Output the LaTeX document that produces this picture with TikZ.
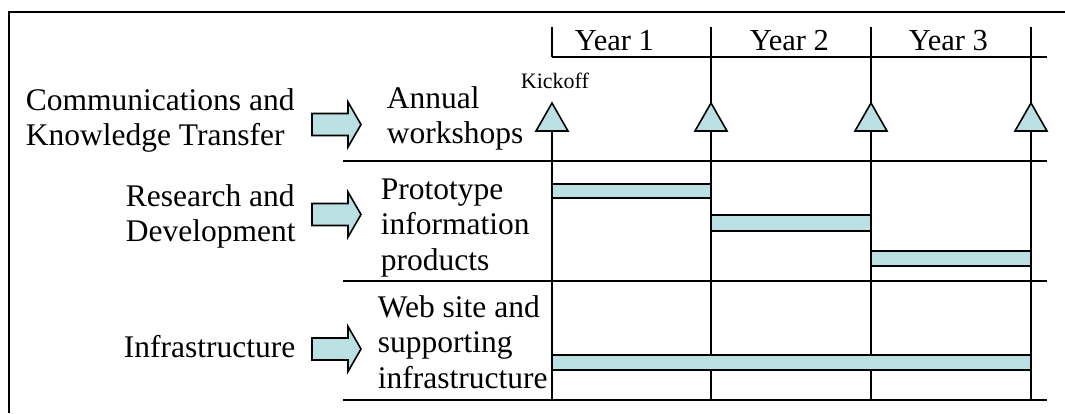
\documentclass[tikz,border=0pt]{standalone}
\usepackage{fontspec}
\setmainfont{Liberation Serif}
\definecolor{barfill}{RGB}{187,224,227}
\newcommand{\mylines}[1]{\begin{tabular}[t]{@{}l@{}}#1\end{tabular}}
\begin{document}
\begin{tikzpicture}[x=1pt,y=-1pt,line width=1.8pt,
  lbl/.style={inner sep=0pt,anchor=base west,font=\fontsize{31.5}{35.5}\selectfont},
  yr/.style={inner sep=0pt,anchor=base west,font=\fontsize{30.5}{34}\selectfont},
  small/.style={inner sep=0pt,anchor=base west,font=\fontsize{22}{26}\selectfont},
  grid/.style={draw=black,line width=1.8pt},
  frame/.style={draw=black,line width=2pt},
  bar/.style={draw=black,fill=barfill,line width=1.5pt},
  tri/.style={draw=black,fill=barfill,line width=1.6pt,line join=miter},
  blockarr/.pic={\filldraw[draw=black,fill=barfill,line width=1.6pt,line join=miter]
     (-24.5,-11) -- (11.5,-11) -- (11.5,-22.5) -- (24.5,0) -- (11.5,22.5) -- (11.5,11) -- (-24.5,11) -- cycle;}]
\useasboundingbox (0,0) rectangle (1065,413);
% frame
\draw[frame] (9,413) -- (9,12) -- (1065,12);
% grid
\draw[grid] (552,27) -- (552,57);
\draw[grid] (552,131) -- (552,400);
\foreach \x in {711,871,1031} \draw[grid] (\x,27) -- (\x,400);
\draw[grid] (552,57) -- (1047,57);
\foreach \y in {161,281,400} \draw[grid] (343,\y) -- (1047,\y);
% bars
\draw[bar] (552,184) rectangle (711,198);
\draw[bar] (711,215) rectangle (871,231);
\draw[bar] (871,251) rectangle (1031,266);
\draw[bar] (552,355) rectangle (1031,370);
% milestones
\foreach \x in {552,711,871,1031}
  \filldraw[tri] (\x,103) -- (\x+16,131) -- (\x-16,131) -- cycle;
% arrows
\pic at (336.5,124.5) {blockarr};
\pic at (336.5,214.5) {blockarr};
\pic at (336.5,349) {blockarr};
% year labels
\node[yr] (y1) at (574,50) {Year 1};
\node[yr] (y2) at (749,50) {Year 2};
\node[yr] (y3) at (908,50) {Year 3};
\node[small] (kick) at (520,88) {Kickoff};
% left labels
\node[lbl] (comm) at (25,110) {\mylines{Communications and\\Knowledge Transfer}};
\node[lbl] (rd) at (125,206) {\mylines{Research and\\Development}};
\node[lbl] (inf) at (123,357) {Infrastructure};
% middle labels
\node[lbl] (ws) at (386,108) {\mylines{Annual\\workshops}};
\node[lbl] (proto) at (380,199) {\mylines{Prototype\\information\\products}};
\node[lbl] (web) at (377,317) {\mylines{Web site and\\supporting\\infrastructure}};
\end{tikzpicture}
\end{document}
